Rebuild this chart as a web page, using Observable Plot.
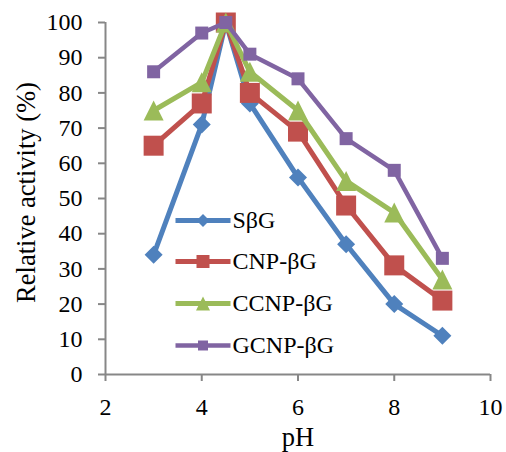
<!DOCTYPE html>
<html>
<head>
<meta charset="utf-8">
<script src="https://cdn.jsdelivr.net/npm/d3@7"></script>
<script src="https://cdn.jsdelivr.net/npm/@observablehq/plot@0.6"></script>
<style>
  html, body { margin: 0; padding: 0; background: white; }
  #chart { width: 506px; height: 452px; }
</style>
</head>
<body>
<div id="chart"></div>
<script>
// ---- data ----
const pH = [3, 4, 4.5, 5, 6, 7, 8, 9];
const seriesNames = ["SβG", "CNP-βG", "CCNP-βG", "GCNP-βG"];
const sbg  = [34, 71, 100, 77, 56, 37, 20, 11];
const cnp  = [65, 77, 100, 80, 69, 48, 31, 21];
const ccnp = [75, 83, 100, 86, 75, 55, 46, 27];
const gcnp = [86, 97, 100, 91, 84, 67, 58, 33];
const xTicks = [2, 4, 6, 8, 10];
const yTicks = [0, 10, 20, 30, 40, 50, 60, 70, 80, 90, 100];
const xLabel = "pH";
const yLabel = "Relative activity (%)";

// ---- styles ----
const colors = ["#4f81bd", "#c0504d", "#9bbb59", "#8064a2"];
const rad = r => Math.sqrt(r / Math.PI);
const diamond = { draw(c, s) { const r = rad(s); c.moveTo(0, -r); c.lineTo(r, 0); c.lineTo(0, r); c.lineTo(-r, 0); c.closePath(); } };
const square = { draw(c, s) { const r = rad(s); c.moveTo(-r, -r); c.lineTo(r, -r); c.lineTo(r, r); c.lineTo(-r, r); c.closePath(); } };
const triangle = { draw(c, s) { const r = rad(s); c.moveTo(0, -r); c.lineTo(r, r); c.lineTo(-r, r); c.closePath(); } };
const hline = { draw(c, s) { const r = rad(s); c.moveTo(-r, 0); c.lineTo(r, 0); } };
const symbols = [diamond, square, triangle, square];
const markerR = [9, 10, 10, 6.5];
const legendR = [6.5, 6.5, 7, 5];
const lineW = [5, 5, 5, 4.5];
const axisGray = "#878787";
const font = "'Liberation Serif', 'Times New Roman', serif";

const values = [sbg, cnp, ccnp, gcnp];
const series = seriesNames.map((name, i) => ({
  name,
  rows: pH.map((p, j) => ({ pH: p, v: values[i][j] }))
}));

const marks = [
  Plot.ruleY([0], { stroke: axisGray, strokeWidth: 2 }),
  Plot.ruleX([2], { stroke: axisGray, strokeWidth: 2 }),
  Plot.axisX({ ticks: xTicks, tickSize: 7, tickPadding: 16, stroke: axisGray, strokeWidth: 2, fill: "black", fontSize: 24, label: null }),
  Plot.axisY({ ticks: yTicks, tickSize: 7, tickPadding: 16, stroke: axisGray, strokeWidth: 2, fill: "black", fontSize: 24, label: null }),
  Plot.text([yLabel], { text: d => d, frameAnchor: "left", textAnchor: "middle", lineAnchor: "middle", rotate: -90, dx: -79, dy: -6, fontSize: 26.5, fill: "black" }),
  Plot.text([xLabel], { text: d => d, frameAnchor: "bottom", textAnchor: "middle", lineAnchor: "middle", dy: 63, fontSize: 26.5, fill: "black" })
];

series.forEach((s, i) => {
  marks.push(Plot.line(s.rows, { x: "pH", y: "v", stroke: colors[i], strokeWidth: lineW[i], strokeLinejoin: "round" }));
  marks.push(Plot.dot(s.rows, { x: "pH", y: "v", symbol: symbols[i], r: markerR[i], fill: colors[i], stroke: "none" }));
});

// legend inside plot
const rowDy = [198, 239, 281, 323];
series.forEach((s, i) => {
  marks.push(Plot.dot([s.name], { frameAnchor: "top-left", dx: 97.5, dy: rowDy[i], symbol: hline, r: 27.5, stroke: colors[i], strokeWidth: lineW[i], fill: "none" }));
  marks.push(Plot.dot([s.name], { frameAnchor: "top-left", dx: 97.5, dy: rowDy[i], symbol: symbols[i], r: legendR[i], fill: colors[i], stroke: "none" }));
  marks.push(Plot.text([s.name], { text: d => d, frameAnchor: "top-left", dx: 127, dy: rowDy[i], textAnchor: "start", lineAnchor: "middle", fontSize: 24, fill: "black" }));
});

const chart = Plot.plot({
  width: 506,
  height: 452,
  marginLeft: 105,
  marginRight: 16,
  marginTop: 22,
  marginBottom: 78,
  x: { domain: [2, 10] },
  y: { domain: [0, 100] },
  style: { fontFamily: font, fontSize: "24px", background: "white", color: "black" },
  marks
});
document.getElementById("chart").append(chart);
</script>
</body>
</html>
